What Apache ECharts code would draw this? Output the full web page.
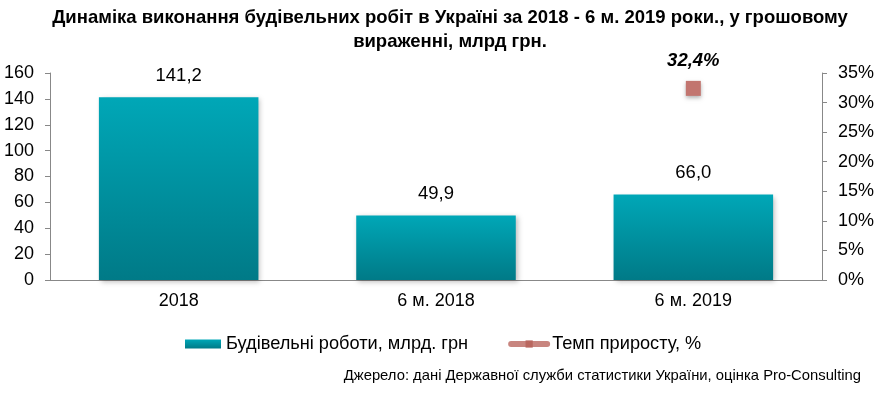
<!DOCTYPE html>
<html><head><meta charset="utf-8">
<script src="https://cdn.jsdelivr.net/npm/echarts@6/dist/echarts.min.js"></script>
<style>html,body{margin:0;padding:0;background:#fff}#c{width:895px;height:393px}</style>
</head><body><div id="c"></div>
<script>
const categories = ['2018', '6 м. 2018', '6 м. 2019'];
const worksValues = [141.2, 49.9, 66.0];
const growthValues = [null, null, 32.4];
const leftTicks = [0, 160, 20];
const rightTicks = [0, 35, 5];

const chart = echarts.init(document.getElementById('c'));
const F = '"Liberation Sans", Arial, sans-serif';
chart.setOption({
  animation: false,
  textStyle: { fontFamily: F },
  graphic: [{
    type: 'text', x: 450, y: 6,
    style: {
      text: 'Динаміка виконання будівельних робіт в Україні за 2018 - 6 м. 2019 роки., у грошовому\nвираженні, млрд грн.',
      align: 'center', fontSize: 18.5, fontWeight: 'bold', lineHeight: 24, fill: '#000', fontFamily: F
    }
  }, {
    type: 'text', right: 34, top: 368,
    style: { text: 'Джерело: дані Державної служби статистики України, оцінка Pro-Consulting', fontSize: 14.8, fill: '#000', fontFamily: F }
  }],
  legend: {
    top: 330, left: 180, itemGap: 40, itemWidth: 36, itemHeight: 9,
    textStyle: { fontSize: 18.2, color: '#000', fontFamily: F },
    data: [
      { name: 'Будівельні роботи, млрд. грн', icon: 'rect' },
      { name: 'Темп приросту, %', lineStyle: { width: 6, color: '#c8857f', cap: 'round' }, itemStyle: { color: '#b9675f' } }
    ]
  },
  grid: { left: 50, right: 73, top: 73, bottom: 113 },
  xAxis: {
    type: 'category', data: categories,
    axisLine: { lineStyle: { color: '#888' } },
    axisTick: { show: false },
    axisLabel: { fontSize: 18, color: '#000', margin: 12 }
  },
  yAxis: [{
    type: 'value', min: leftTicks[0], max: leftTicks[1], interval: leftTicks[2],
    splitLine: { show: false },
    axisLine: { show: true, lineStyle: { color: '#888' } },
    axisTick: { show: true, length: 5, lineStyle: { color: '#888' } },
    axisLabel: { fontSize: 18, color: '#000', margin: 16 }
  }, {
    type: 'value', min: rightTicks[0], max: rightTicks[1], interval: rightTicks[2],
    splitLine: { show: false },
    axisLine: { show: true, lineStyle: { color: '#888' } },
    axisTick: { show: true, length: 5, lineStyle: { color: '#888' } },
    axisLabel: { fontSize: 18, color: '#000', margin: 16, formatter: '{value}%' }
  }],
  series: [{
    name: 'Будівельні роботи, млрд. грн',
    type: 'bar', data: worksValues, barWidth: '62%',
    itemStyle: {
      color: new echarts.graphic.LinearGradient(0, 0, 0, 1, [
        { offset: 0, color: '#00a7b7' }, { offset: 1, color: '#007a87' }
      ]),
      shadowColor: 'rgba(0,0,0,0.25)', shadowBlur: 5, shadowOffsetX: 2, shadowOffsetY: 2
    },
    label: {
      show: true, position: 'top', distance: 12, fontSize: 18.5, color: '#000',
      formatter: p => p.value.toFixed(1).replace('.', ',')
    }
  }, {
    name: 'Темп приросту, %',
    type: 'line', yAxisIndex: 1, data: growthValues,
    symbol: 'rect', symbolSize: 15,
    lineStyle: { width: 6, color: '#c8857f' },
    itemStyle: { color: '#c2756f', shadowColor: 'rgba(0,0,0,0.3)', shadowBlur: 4, shadowOffsetY: 2 },
    label: {
      show: true, position: 'top', distance: 10, fontSize: 18.5, fontWeight: 'bold', fontStyle: 'italic', color: '#000',
      formatter: p => p.value == null ? '' : p.value.toFixed(1).replace('.', ',') + '%'
    }
  }]
});
</script></body></html>
